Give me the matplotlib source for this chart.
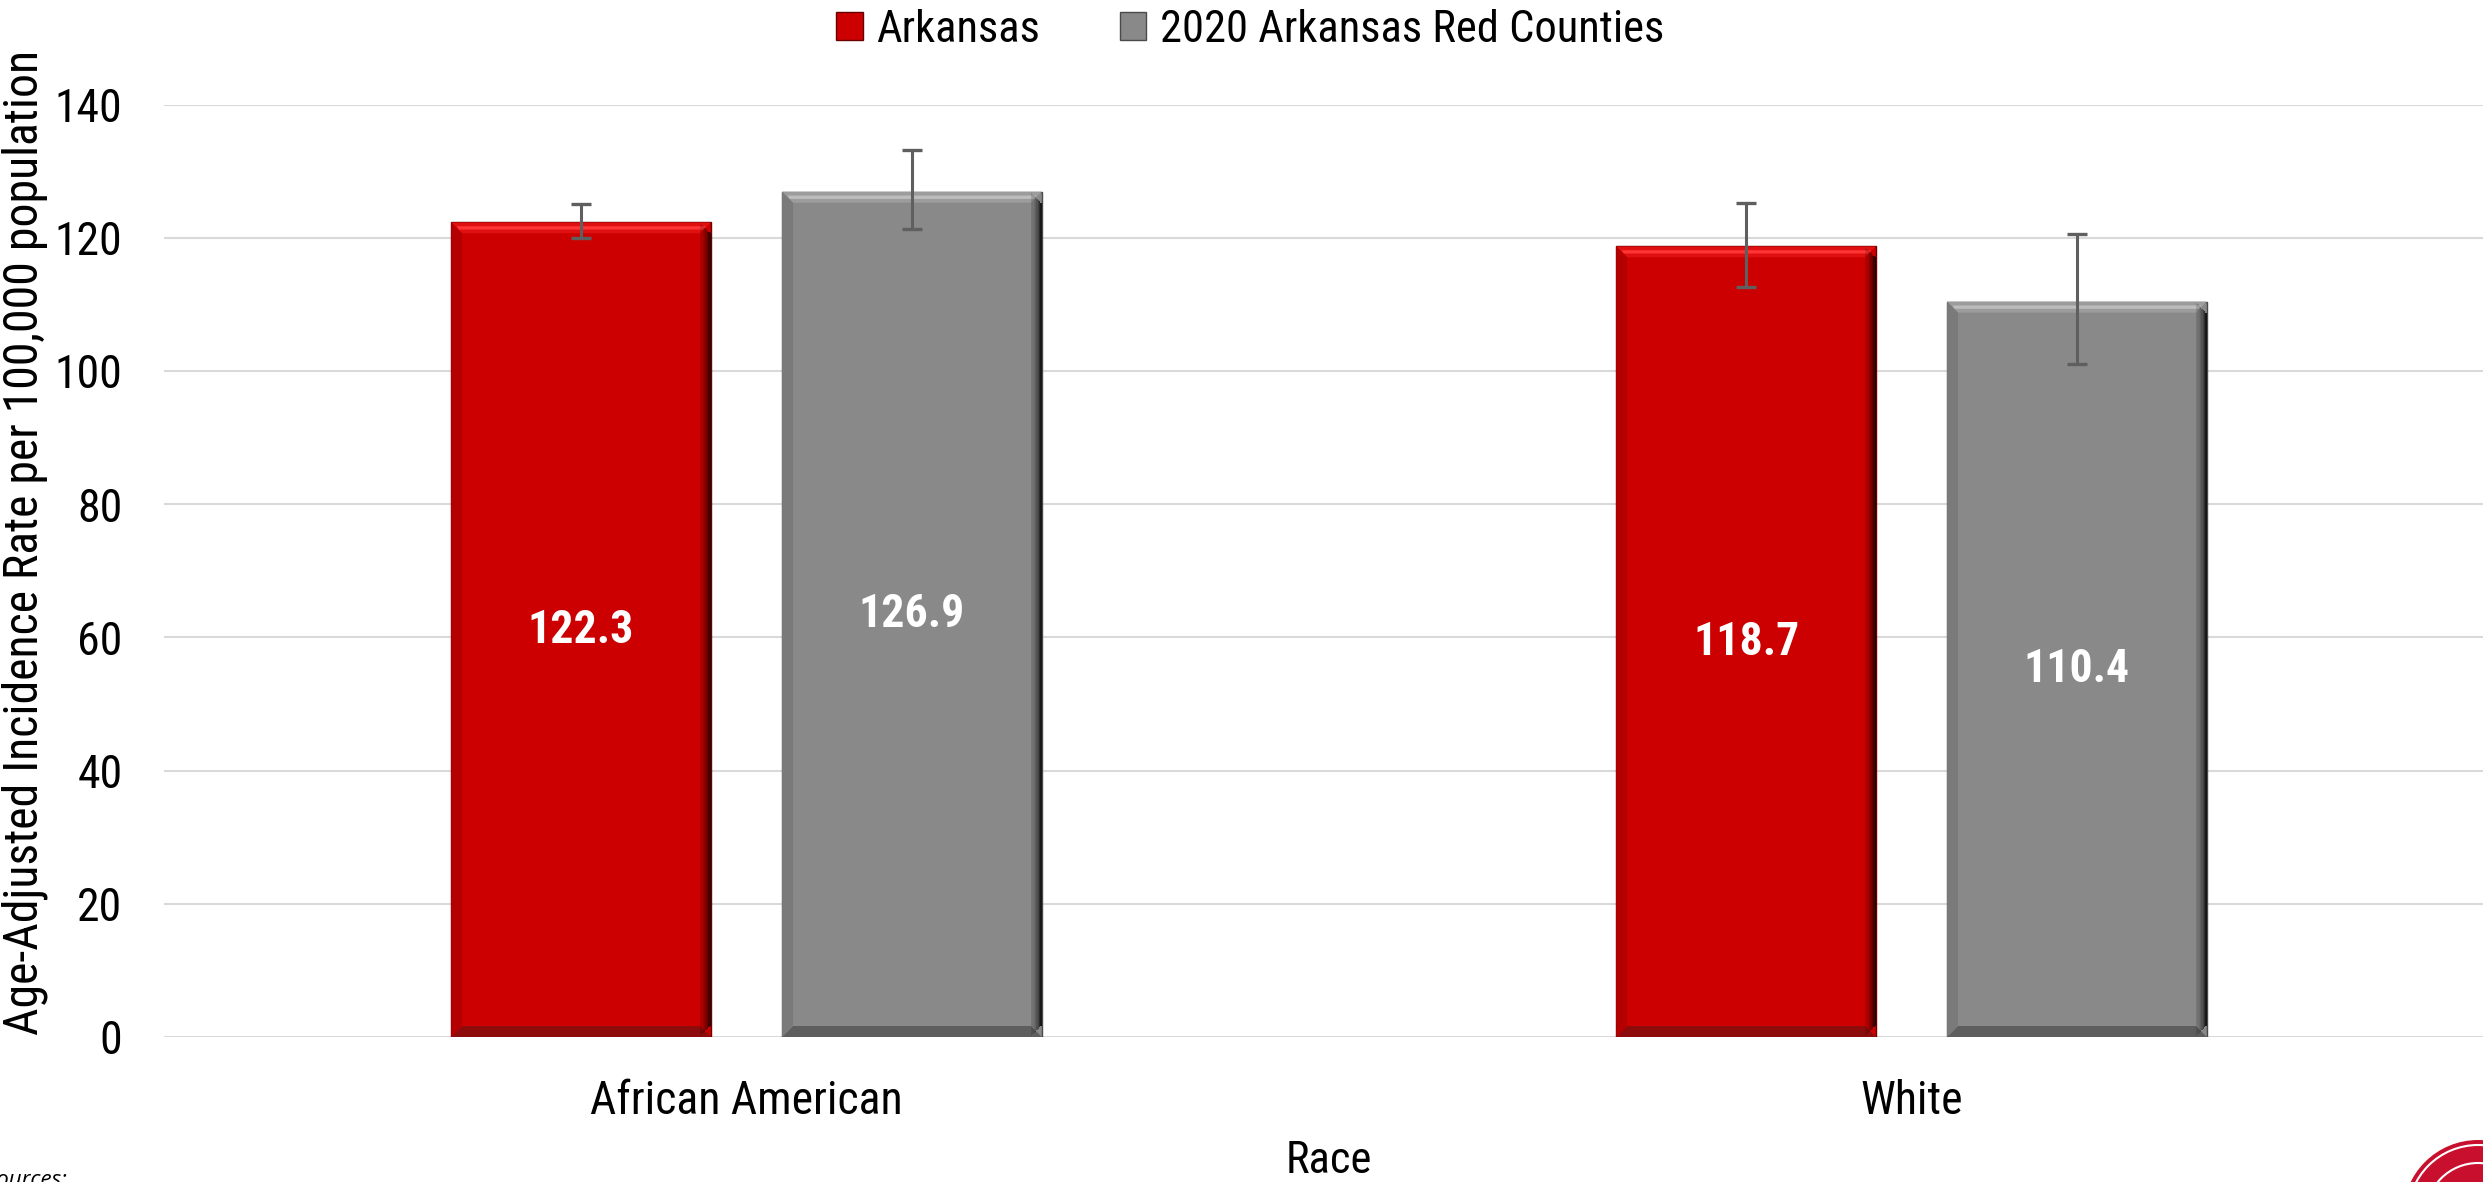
import matplotlib
matplotlib.use("Agg")
import matplotlib.pyplot as plt
from matplotlib import font_manager
from matplotlib.patches import Polygon, Patch, Circle
import numpy as np

# ---------------- data ----------------
categories = ["African American", "White"]
series_names = ["Arkansas", "2020 Arkansas Red Counties"]
arkansas = [122.3, 118.7]
red_counties = [126.9, 110.4]
arkansas_lo = [120.0, 112.6]
arkansas_hi = [125.0, 125.2]
red_lo = [121.3, 101.1]
red_hi = [133.2, 120.5]
yticks = [0, 20, 40, 60, 80, 100, 120, 140]
ylabel = "Age-Adjusted Incidence Rate per 100,000 population"
xlabel = "Race"

# ---------------- fonts: look for a narrow sans family ----------------
entries = font_manager.fontManager.ttflist
names = {f.name for f in entries}
choice = None  # (family, stretch, size-scale)
for fam_name, scale in [("Liberation Sans Narrow", 1.0), ("Arial Narrow", 1.0),
                        ("Roboto Condensed", 0.97), ("Noto Sans Condensed", 0.98),
                        ("Open Sans Condensed", 0.95)]:
    if fam_name in names:
        choice = (fam_name, "normal", scale)
        break
if choice is None:
    for base, scale in [("Noto Sans", 0.98), ("Roboto", 0.97), ("Open Sans", 0.95)]:
        cond = [f for f in entries if f.name == base and str(f.stretch) == "condensed"]
        if cond:
            choice = (base, "condensed", scale)
            break
if choice is None:
    choice = ("Liberation Sans", "normal", 0.87)

FAM, STRETCH, k = choice
plt.rcParams["font.family"] = [FAM, "Liberation Sans", "DejaVu Sans"]
plt.rcParams["font.stretch"] = STRETCH

W, H = 2483, 1182
fig = plt.figure(figsize=(W / 100, H / 100), dpi=100)
ax_left, ax_right = 164 / W, 2494 / W
ax_bottom, ax_top = 1 - 1037 / H, 1 - 104.5 / H
ax = fig.add_axes([ax_left, ax_bottom, ax_right - ax_left, ax_top - ax_bottom])

x = np.arange(len(categories))
bw = 0.223
off = 0.142
red_main, gray_main = "#CC0000", "#898989"

b1 = ax.bar(x - off, arkansas, bw, color=red_main, edgecolor="#6a0000", linewidth=1.0, zorder=3)
b2 = ax.bar(x + off, red_counties, bw, color=gray_main, edgecolor="#4a4a4a", linewidth=1.0, zorder=3)

ax.set_xlim(-0.5, 1.5)
ax.set_ylim(0, 140)

# bevel effect derived from bar geometry
axw_px = (ax_right - ax_left) * W
axh_px = (ax_top - ax_bottom) * H
bev_px = 11
dx = bev_px * 2.0 / axw_px
dy = bev_px * 140.0 / axh_px

def bevel(bars, top_c, hi_c, bottom_c, left_c):
    for r in bars:
        x0, y0 = r.get_x(), r.get_y()
        x1, y1 = x0 + r.get_width(), y0 + r.get_height()
        polys = [
            ([(x0, y1), (x1, y1), (x1 - dx, y1 - dy), (x0 + dx, y1 - dy)], top_c),
            ([(x0, y0), (x1, y0), (x1 - dx, y0 + dy), (x0 + dx, y0 + dy)], bottom_c),
            ([(x0, y1), (x0, y0), (x0 + dx, y0 + dy), (x0 + dx, y1 - dy)], left_c),
        ]
        for pts, c in polys:
            ax.add_patch(Polygon(pts, closed=True, facecolor=c, edgecolor="none", zorder=3.5))
        ax.add_patch(Polygon([(x0 + dx * 0.5, y1 - dy * 0.35), (x1 - dx * 0.5, y1 - dy * 0.35),
                              (x1 - dx * 0.7, y1 - dy * 0.65), (x0 + dx * 0.7, y1 - dy * 0.65)],
                             closed=True, facecolor=hi_c, edgecolor="none", zorder=3.55))
        n = 8
        for i in range(n):
            w = dx / n
            xs = x1 - dx + i * w
            a = (i + 1) / n
            ax.add_patch(Polygon([(xs, y0 + dy * a), (xs + w, y0 + dy * a), (xs + w, y1 - dy * a), (xs, y1 - dy * a)],
                                 closed=True, facecolor="black", alpha=0.12 + 0.7 * a ** 2, edgecolor="none", zorder=3.6))

bevel(b1, "#E01010", "#FF3535", "#8E0B0B", "#B40000")
bevel(b2, "#9C9C9C", "#BDBDBD", "#5e5e5e", "#7a7a7a")

# error bars
err1 = [np.array(arkansas) - np.array(arkansas_lo), np.array(arkansas_hi) - np.array(arkansas)]
err2 = [np.array(red_counties) - np.array(red_lo), np.array(red_hi) - np.array(red_counties)]
ax.errorbar(x - off, arkansas, yerr=err1, fmt="none", ecolor="#5f5f5f", elinewidth=2.2, capsize=7, capthick=2.4, zorder=5)
ax.errorbar(x + off, red_counties, yerr=err2, fmt="none", ecolor="#5f5f5f", elinewidth=2.2, capsize=7, capthick=2.4, zorder=5)

# data labels
for bars, vals in [(b1, arkansas), (b2, red_counties)]:
    for r, v in zip(bars, vals):
        ax.text(r.get_x() + r.get_width() / 2, v / 2, f"{v:.1f}", ha="center", va="center",
                color="white", fontsize=34 * max(k, 0.97), fontweight="bold", zorder=6)

# axes styling
ax.set_yticks(yticks)
ax.set_yticklabels([str(t) for t in yticks], fontsize=34 * k)
ax.set_xticks(x)
ax.set_xticklabels(categories, fontsize=34 * k)
ax.tick_params(axis="both", length=0)
ax.tick_params(axis="y", pad=30)
ax.tick_params(axis="x", pad=30)
ax.grid(axis="y", color="#D9D9D9", linewidth=1.5, zorder=0)
ax.set_axisbelow(True)
for s in ax.spines.values():
    s.set_visible(False)

ax.set_xlabel(xlabel, fontsize=33 * k)
ax.xaxis.set_label_coords(0.5, (1037 - 1161) / (1037 - 104.5))
ax.xaxis.label.set_va("center")

fig.text(25 / W, 1 - 542 / H, ylabel, rotation=90, ha="center", va="center",
         fontsize=35.5 * (k if k > 0.9 else 0.8))

# legend
handles = [Patch(facecolor=red_main, edgecolor="#6a0000"), Patch(facecolor=gray_main, edgecolor="#4a4a4a")]
leg = fig.legend(handles, series_names, loc="center", bbox_to_anchor=(1250 / W, 1 - 30 / H), ncol=2,
                 frameon=False, fontsize=33 * k, handlelength=0.6, handleheight=0.6, handletextpad=0.3,
                 columnspacing=1.8)

# sources note (clipped at left/bottom edge, as in the reference)
fig.text(-14 / W, -4 / H, "Sources:", fontsize=16, style="italic", ha="left", va="baseline",
         family=["Open Sans", "DejaVu Sans"], stretch="normal")

# logo fragment at bottom-right
logo_ax = fig.add_axes([0, 0, 1, 1], facecolor="none")
logo_ax.set_xlim(0, W)
logo_ax.set_ylim(0, H)
logo_ax.axis("off")
logo_ax.add_patch(Circle((2478, H - 1215), 75, facecolor="#C8102E", edgecolor="none"))
logo_ax.add_patch(Circle((2478, H - 1215), 70, facecolor="none", edgecolor="white", linewidth=1.5))
logo_ax.add_patch(Circle((2478, H - 1215), 52, facecolor="none", edgecolor="white", linewidth=1.5))

fig.savefig("out.png", dpi=100)
